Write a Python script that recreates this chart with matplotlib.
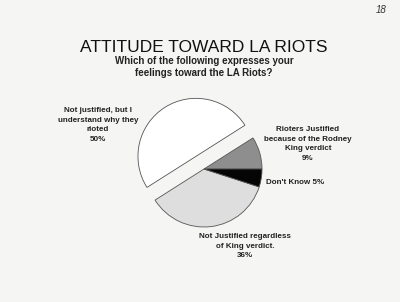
import matplotlib.pyplot as plt

# slice data, counter-clockwise from 3 o'clock
labels = ["Rioters Justified\nbecause of the Rodney\nKing verdict\n9%",
          "Not justified, but I\nunderstand why they\nrioted\n50%",
          "Not Justified regardless\nof King verdict.\n36%",
          "Don't Know 5%"]
shares = [9, 50, 36, 5]
colors = ["#8e8e8e", "#ffffff", "#dedede", "#050505"]
explode = [0, 15, 0, 0]  # pie offsets are in data units here

H = 302
fig = plt.figure(figsize=(4, 3.02), dpi=100)
fig.patch.set_facecolor("#f5f5f3")
ax = fig.add_axes([0, 0, 1, 1])

ax.pie(shares, colors=colors, explode=explode, startangle=0,
       center=(204, H - 169), radius=58, frame=True,
       wedgeprops=dict(edgecolor="#555555", linewidth=0.6))
ax.set_xlim(0, 400)
ax.set_ylim(0, H)
ax.set_aspect("equal")
ax.axis("off")

font = "Liberation Sans"
ax.text(204, H - 47, "ATTITUDE TOWARD LA RIOTS", ha="center", va="center",
        fontsize=12.5, family=font, color="#111111")
ax.text(204, H - 67, "Which of the following expresses your\nfeelings toward the LA Riots?",
        ha="center", va="center", fontsize=7, fontweight="bold", family=font,
        color="#222222", linespacing=1.2)

lab_kw = dict(fontsize=5.8, fontweight="bold", family=font, color="#222222",
              linespacing=1.5)
ax.text(308, H - 144, labels[0], ha="center", va="center", **lab_kw)
ax.text(98, H - 125, labels[1], ha="center", va="center", **lab_kw)
ax.text(245, H - 246, labels[2], ha="center", va="center", **lab_kw)
ax.text(266, H - 183, labels[3], ha="left", va="center", **lab_kw)

ax.text(381, H - 10, "18", ha="center", va="center", fontsize=7,
        style="italic", family=font, color="#333333")

fig.savefig("out.png", dpi=100, facecolor=fig.get_facecolor())
